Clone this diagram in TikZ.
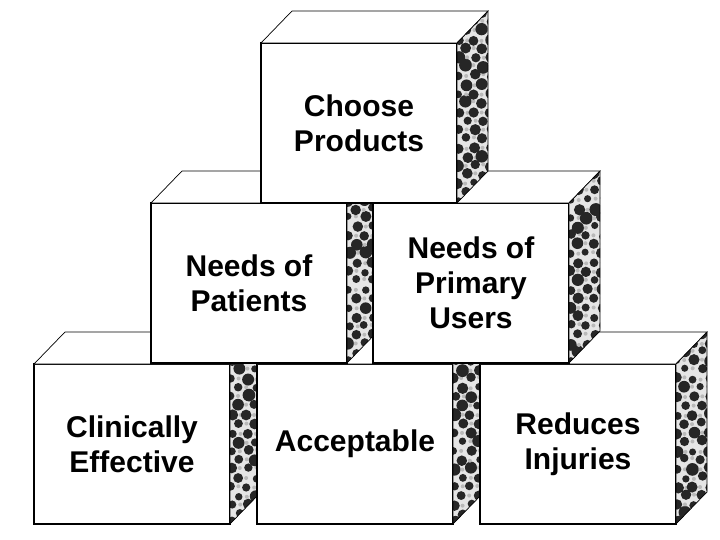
\documentclass[tikz,border=0pt]{standalone}
\usepackage{fontspec}
\setmainfont{Liberation Sans}
\usetikzlibrary{positioning}

\tikzset{
  block/.style={draw, line width=1.2pt, fill=white, minimum width=196pt,
    minimum height=160pt, inner sep=0pt, outer sep=0pt, align=center,
    font=\fontsize{30}{35}\selectfont\bfseries},
  rim/.style={line width=0.7pt, line join=miter},
}

% top face and speckled side face of a block
\newcommand{\blockfaces}[1]{%
  \draw[rim, fill=white] (#1.north west) -- ++(31pt,32pt)
    -- ([shift={(31pt,32pt)}]#1.north east) -- (#1.north east) -- cycle;
  \begin{scope}
    \clip (#1.south east) -- (#1.north east) -- ++(31pt,32pt)
      -- ([shift={(31pt,32pt)}]#1.south east) -- cycle;
    \fill[gray!20] ([shift={(-1pt,-1pt)}]#1.south east)
      rectangle ([shift={(33pt,34pt)}]#1.north east);
    \foreach \j in {0,...,21} {
      \foreach \i in {0,...,2} {
        \pgfmathsetmacro\xx{\i*16+mod(\j,2)*8+3*rnd}
        \pgfmathsetmacro\yy{\j*9+3*rnd}
        \pgfmathsetmacro\rr{3.5+3*rnd}
        \fill[black!85] ([shift={(\xx pt,\yy pt)}]#1.south east) circle (\rr pt);
        \fill[gray!55] ([shift={(\xx pt+8pt,\yy pt)}]#1.south east) circle (2pt);
      }
    }
  \end{scope}
  \draw[rim] (#1.south east) -- (#1.north east) -- ++(31pt,32pt)
    -- ([shift={(31pt,32pt)}]#1.south east) -- cycle;
}

\begin{document}
\begin{tikzpicture}[x=1pt, y=-1pt]
  \useasboundingbox (0,0) rectangle (720,540);
  \pgfmathsetseed{11}

  % bottom row
  \node[block] (ce) at (132,444) {Clinically\\Effective};
  \blockfaces{ce}
  \node[block, right=27pt of ce] (acc) {Acceptable};
  \blockfaces{acc}
  \node[block, right=27pt of acc] (ri) {Reduces\\Injuries};
  \blockfaces{ri}

  % middle row
  \node[block] (np) at (249,283) {Needs of\\Patients};
  \blockfaces{np}
  \node[block, right=26pt of np] (nu) {Needs of\\Primary\\Users};
  \blockfaces{nu}

  % top
  \node[block] (cp) at (359,123) {Choose\\Products};
  \blockfaces{cp}
\end{tikzpicture}
\end{document}
